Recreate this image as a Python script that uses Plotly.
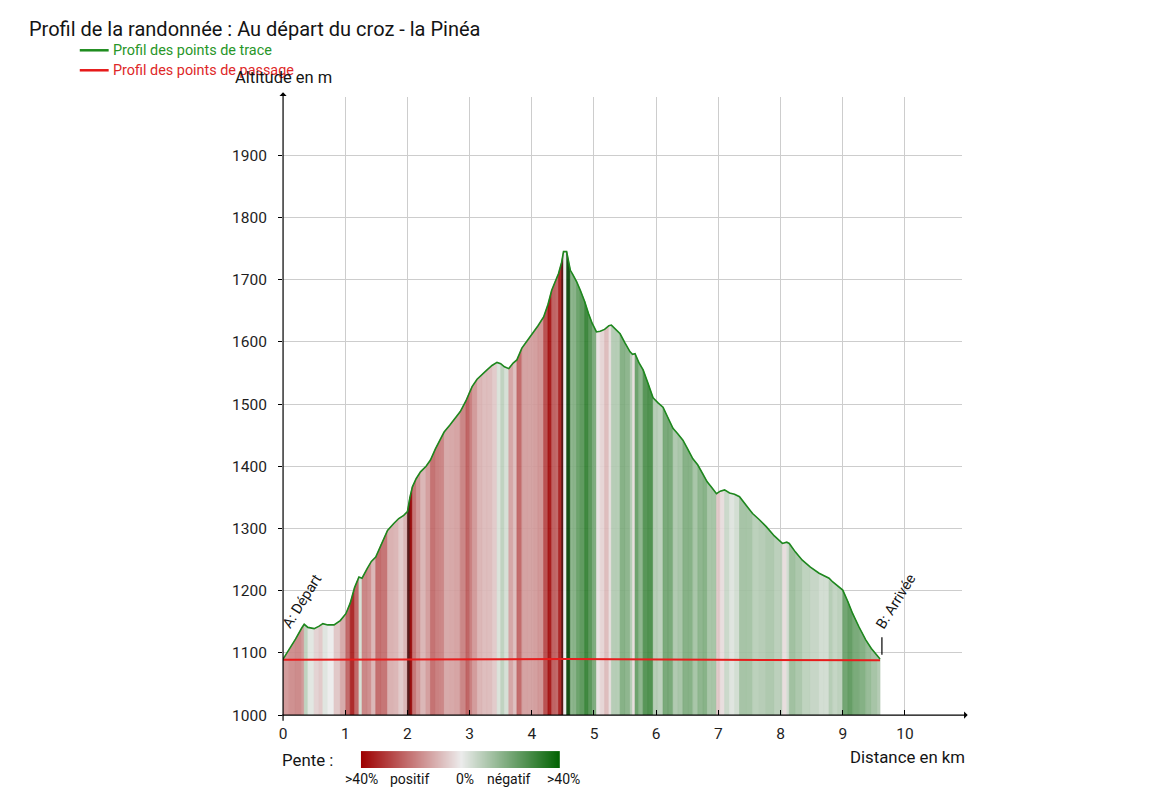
import plotly.graph_objects as go
from plotly.colors import sample_colorscale

# ---------------- data ----------------
dist = [0.00, 0.10, 0.20, 0.30, 0.34, 0.40, 0.50, 0.58, 0.64, 0.72, 0.82, 0.92,
        1.01, 1.08, 1.15, 1.22, 1.27, 1.35, 1.42, 1.49, 1.58, 1.68, 1.78, 1.86,
        1.94, 2.00, 2.04, 2.08, 2.14, 2.21, 2.30, 2.37, 2.45, 2.52, 2.59, 2.68,
        2.76, 2.85, 2.94, 3.00, 3.04, 3.12, 3.20, 3.28, 3.36, 3.44, 3.50, 3.56,
        3.63, 3.70, 3.76, 3.84, 3.92, 4.03, 4.10, 4.19, 4.26, 4.32, 4.38, 4.43,
        4.48, 4.51, 4.56, 4.59, 4.62, 4.66, 4.72, 4.78, 4.85, 4.91, 4.97, 5.04,
        5.10, 5.17, 5.24, 5.28, 5.35, 5.42, 5.50, 5.58, 5.62, 5.66, 5.72, 5.79,
        5.87, 5.95, 6.03, 6.11, 6.19, 6.27, 6.35, 6.43, 6.51, 6.59, 6.67, 6.75,
        6.82, 6.90, 6.97, 7.03, 7.10, 7.18, 7.26, 7.34, 7.44, 7.55, 7.66, 7.77,
        7.90, 8.03, 8.10, 8.14, 8.24, 8.35, 8.48, 8.62, 8.70, 8.78, 8.84, 8.92,
        9.00, 9.08, 9.16, 9.26, 9.37, 9.46, 9.56, 9.60]
alt = [1090, 1105, 1122, 1140, 1146, 1141, 1139, 1143, 1147, 1145, 1145, 1152,
       1163, 1180, 1205, 1222, 1220, 1235, 1247, 1254, 1275, 1297, 1308, 1316,
       1321, 1327, 1350, 1367, 1380, 1391, 1400, 1410, 1428, 1442, 1455, 1466,
       1476, 1488, 1505, 1520, 1528, 1540, 1548, 1555, 1562, 1567, 1565, 1560,
       1557, 1566, 1571, 1590, 1601, 1616, 1626, 1640, 1660, 1683, 1698, 1710,
       1728, 1745, 1745, 1730, 1715, 1708, 1697, 1683, 1665, 1646, 1630, 1616,
       1617, 1620, 1626, 1627, 1620, 1613, 1598, 1584, 1580, 1581, 1567, 1555,
       1533, 1510, 1502, 1495, 1478, 1461, 1452, 1442, 1427, 1412, 1402, 1388,
       1375, 1365, 1356, 1360, 1362, 1357, 1355, 1351, 1338, 1324, 1314, 1303,
       1288, 1276, 1278, 1276, 1262, 1249, 1238, 1228, 1224, 1220, 1214, 1208,
       1201, 1183, 1163, 1142, 1121, 1107, 1094, 1090]

passage_dist = [0.0, 4.55, 9.60]
passage_alt = [1089, 1090, 1088]

x_ticks = [0, 1, 2, 3, 4, 5, 6, 7, 8, 9, 10]
y_ticks = [1000, 1100, 1200, 1300, 1400, 1500, 1600, 1700, 1800, 1900]

pente_levels = [40, 20, 0, -20, -40]
pente_labels = [">40%", "positif", "0%", "négatif", ">40%"]

title_text = "Profil de la randonnée : Au départ du croz - la Pinéa"
legend_names = ["Profil des points de trace", "Profil des points de passage"]

# ---------------- style ----------------
W, H = 1155, 798
FONT = "Roboto"
# page offset compensation (body margin of the html page)
OX, OY, SY = 10.0, 7.7, 0.989


def px(x):
    return (x - OX) / W


def py(y):
    return 1 - ((y - OY) / SY) / H


slope_scale = [[0.0, "rgb(0,98,0)"], [0.5, "rgb(236,236,236)"], [1.0, "rgb(158,0,0)"]]
# same scale, prolonged towards very dark tones for slopes beyond 40 %
stripe_scale = [[0.0, "rgb(20,40,20)"], [1 / 6, "rgb(0,98,0)"], [0.5, "rgb(236,236,236)"],
                [5 / 6, "rgb(158,0,0)"], [1.0, "rgb(60,10,10)"]]

fig = go.Figure()

# slope-coloured stripes under the profile
base = y_ticks[0]
for i in range(len(dist) - 1):
    d0, d1 = dist[i], dist[i + 1]
    a0, a1 = alt[i], alt[i + 1]
    slope = (a1 - a0) / ((d1 - d0) * 1000) * 100
    t = min(max((slope + 60) / 120, 0), 1)
    c = sample_colorscale(stripe_scale, [t])[0]
    rgba = c.replace("rgb(", "rgba(").replace(")", ",0.92)")
    fig.add_trace(go.Scatter(
        x=[d0, d0, d1, d1], y=[base, a0, a1, base],
        fill="toself", fillcolor=rgba, mode="lines",
        line=dict(color=rgba, width=0.6),
        hoverinfo="skip", showlegend=False))

# profile lines
fig.add_trace(go.Scatter(x=passage_dist, y=passage_alt, mode="lines",
                         line=dict(color="rgb(232,28,28)", width=2),
                         showlegend=False, hoverinfo="skip"))
fig.add_trace(go.Scatter(x=dist, y=alt, mode="lines",
                         line=dict(color="rgb(30,135,30)", width=1.6),
                         showlegend=False, hoverinfo="skip"))

# slope legend gradient
fig.add_trace(go.Heatmap(z=[pente_levels, pente_levels], x=list(range(len(pente_levels))),
                         y=[0, 1], zmin=-40, zmax=40, colorscale=slope_scale,
                         zsmooth="best", showscale=False, hoverinfo="skip",
                         xaxis="x2", yaxis="y2"))

fig.update_layout(
    width=W, height=H,
    margin=dict(l=0, r=0, t=0, b=0),
    paper_bgcolor="white", plot_bgcolor="white",
    font=dict(family=FONT, color="rgb(30,30,30)"),
    showlegend=False,
    xaxis=dict(domain=[px(282), px(963)], range=[0, 10.913], tickvals=x_ticks,
               showgrid=True, gridcolor="rgb(205,205,205)", gridwidth=1,
               zeroline=False, showline=False,
               ticks="inside", ticklen=5, tickcolor="black", tickwidth=1,
               ticklabelstandoff=7,
               tickfont=dict(size=15.5, family=FONT, color="rgb(30,30,30)")),
    yaxis=dict(domain=[py(715), py(97)], range=[1000, 1993.2], tickvals=y_ticks,
               showgrid=True, gridcolor="rgb(205,205,205)", gridwidth=1,
               zeroline=False, showline=False,
               ticks="outside", ticklen=4, tickcolor="black", tickwidth=1,
               ticklabelstandoff=8,
               tickfont=dict(size=15.5, family=FONT, color="rgb(30,30,30)")),
    xaxis2=dict(domain=[px(360), px(560)], range=[0, len(pente_levels) - 1],
                visible=False, anchor="y2"),
    yaxis2=dict(domain=[py(768), py(751)], range=[0, 1], visible=False, anchor="x2"),
)

ann = []
# axis arrows
ann.append(dict(x=px(969), y=py(715), xref="paper", yref="paper", ax=-(969 - 282), ay=0,
                text="", showarrow=True, arrowhead=1, arrowsize=1, arrowwidth=1.2,
                arrowcolor="black", standoff=0))
ann.append(dict(x=px(282), y=py(92), xref="paper", yref="paper", ax=0, ay=(715 - 92) / SY,
                text="", showarrow=True, arrowhead=1, arrowsize=1, arrowwidth=1.2,
                arrowcolor="black", standoff=0))
# title
ann.append(dict(x=px(25), y=py(29), xref="paper", yref="paper", text=title_text,
                showarrow=False, xanchor="left", yanchor="middle",
                font=dict(size=20, color="rgb(20,20,20)", family=FONT)))
# legend
ann.append(dict(x=px(109), y=py(50), xref="paper", yref="paper", text=legend_names[0],
                showarrow=False, xanchor="left", yanchor="middle",
                font=dict(size=14.4, color="rgb(40,150,40)", family=FONT)))
ann.append(dict(x=px(109), y=py(70), xref="paper", yref="paper", text=legend_names[1],
                showarrow=False, xanchor="left", yanchor="middle",
                font=dict(size=14.4, color="rgb(222,40,40)", family=FONT)))
# axis titles
ann.append(dict(x=px(282), y=py(77), xref="paper", yref="paper", text="Altitude en m",
                showarrow=False, xanchor="center", yanchor="middle",
                font=dict(size=16.5, color="rgb(20,20,20)", family=FONT)))
ann.append(dict(x=px(968), y=py(757), xref="paper", yref="paper", text="Distance en km",
                showarrow=False, xanchor="right", yanchor="middle",
                font=dict(size=16.8, color="rgb(20,20,20)", family=FONT)))
# slope legend texts
ann.append(dict(x=px(279), y=py(760), xref="paper", yref="paper", text="Pente :",
                showarrow=False, xanchor="left", yanchor="middle",
                font=dict(size=16.8, color="rgb(20,20,20)", family=FONT)))
label_x = [361, 409, 465, 509, 563]
for lx, lab in zip(label_x, pente_labels):
    ann.append(dict(x=px(lx), y=py(779), xref="paper", yref="paper", text=lab,
                    showarrow=False, xanchor="center", yanchor="middle",
                    font=dict(size=14, color="rgb(20,20,20)", family=FONT)))
# start / end labels
ann.append(dict(x=px(301), y=py(601), xref="paper", yref="paper", text="A: Départ",
                showarrow=False, textangle=-58, xanchor="center", yanchor="middle",
                font=dict(size=14.5, color="rgb(20,20,20)", family=FONT)))
ann.append(dict(x=px(897), y=py(601), xref="paper", yref="paper", text="B: Arrivée",
                showarrow=False, textangle=-58, xanchor="center", yanchor="middle",
                font=dict(size=14.5, color="rgb(20,20,20)", family=FONT)))
fig.update_layout(annotations=ann)

shapes = [
    dict(type="line", xref="paper", yref="paper", x0=px(78), x1=px(107), y0=py(50), y1=py(50),
         line=dict(color="rgb(30,140,30)", width=2.5)),
    dict(type="line", xref="paper", yref="paper", x0=px(78), x1=px(107), y0=py(70), y1=py(70),
         line=dict(color="rgb(230,25,25)", width=2.5)),
    dict(type="line", xref="x", yref="y", x0=dist[-1] + 0.03, x1=dist[-1] + 0.03,
         y0=alt[-1] + 7, y1=alt[-1] + 35, line=dict(color="black", width=1.2)),
]
fig.update_layout(shapes=shapes)

fig.write_html("out.html")
